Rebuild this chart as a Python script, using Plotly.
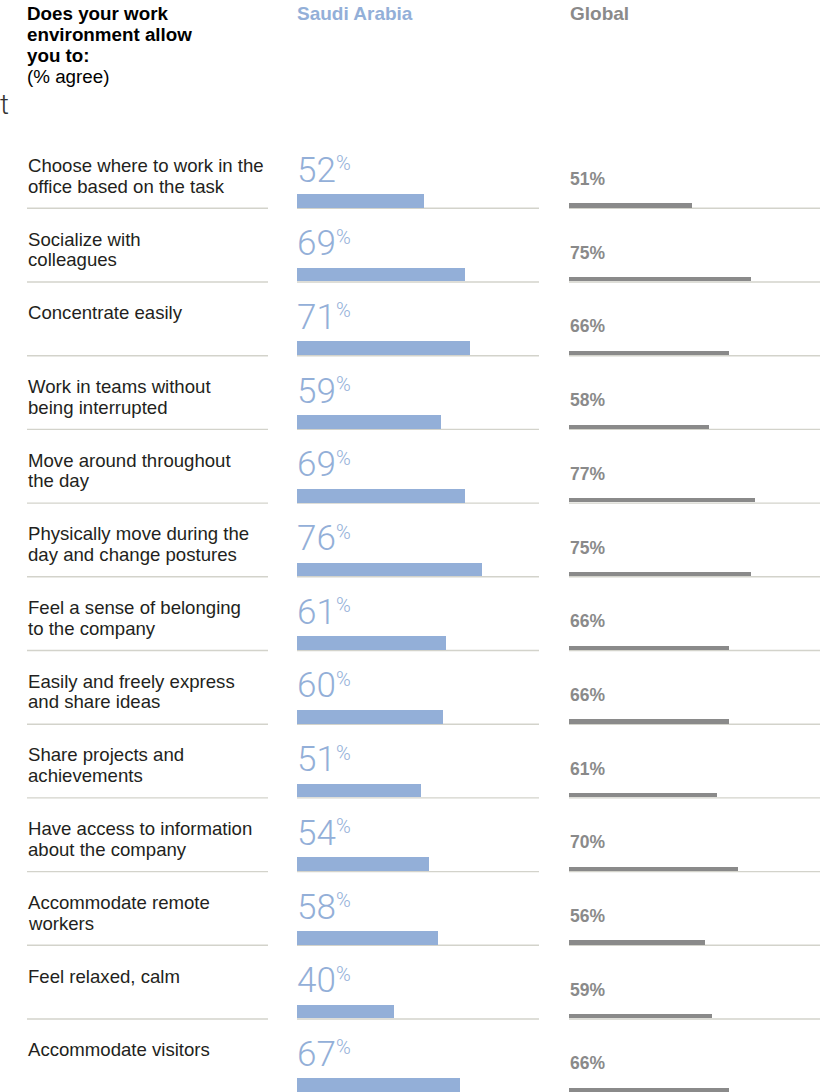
import plotly.graph_objects as go

W, H = 820, 1092

labels = [
    "Choose where to work in the<br>office based on the task",
    "Socialize with<br>colleagues",
    "Concentrate easily",
    "Work in teams without<br>being interrupted",
    "Move around throughout<br>the day",
    "Physically move during the<br>day and change postures",
    "Feel a sense of belonging<br>to the company",
    "Easily and freely express<br>and share ideas",
    "Share projects and<br>achievements",
    "Have access to information<br>about the company",
    "Accommodate remote<br>workers",
    "Feel relaxed, calm",
    "Accommodate visitors",
]
saudi = [52, 69, 71, 59, 69, 76, 61, 60, 51, 54, 58, 40, 67]
global_ = [51, 75, 66, 58, 77, 75, 66, 66, 61, 70, 56, 59, 66]
header_lines = ["<b>Does your work</b>", "<b>environment allow</b>", "<b>you to:</b>", "(% agree)"]

SAUDI_C = "#93afd8"
GLOBAL_C = "#8a8a8a"
LINE_C = "#d3d3cb"
TEXT_C = "#231f20"
SANS = "Liberation Sans, Arial, sans-serif"

# pixel -> row-unit mapping (row i occupies ROW0 + i*PITCH .. ROW0 + (i+1)*PITCH)
ROW0 = 134.6
PITCH = 73.7
SA_X0, SA_W = 297, 243.6
GL_X0, GL_W = 569, 242


def u(px):
    return (px - ROW0) / PITCH


def off(px):
    return (px - ROW0) / PITCH


def py(px):
    return 1 - px / H


n = len(labels)
rows = list(range(n))

fig = go.Figure()
fig.add_trace(go.Bar(
    y=[r + off(200.85) for r in rows], x=saudi, orientation="h",
    width=13.7 / PITCH, marker=dict(color=SAUDI_C, line=dict(width=0)),
    textposition="none",
    xaxis="x", yaxis="y", hoverinfo="skip", showlegend=False,
))
fig.add_trace(go.Bar(
    y=[r + off(205.5) for r in rows], x=global_, orientation="h",
    width=4.2 / PITCH, marker=dict(color=GLOBAL_C, line=dict(width=0)),
    textposition="none",
    xaxis="x2", yaxis="y", hoverinfo="skip", showlegend=False,
))

shapes = []
ann = []
for r in rows:
    yl = r + 1
    for x0, x1 in [(27, 268), (297, 539), (569, 820)]:
        shapes.append(dict(type="line", xref="paper", yref="y",
                           x0=x0 / W, x1=x1 / W, y0=yl, y1=yl,
                           line=dict(color=LINE_C, width=1.4), layer="below"))
    for k, line in enumerate(labels[r].split("<br>")):
        ann.append(dict(xref="paper", yref="y", x=26 / W, y=r + off(165.3 + 20.7 * k),
                        text=line, showarrow=False, xanchor="left", yanchor="middle",
                        align="left",
                        font=dict(family=SANS, size=18.6, color=TEXT_C)))
    ann.append(dict(xref="paper", yref="y", x=(SA_X0 - 2) / W, y=r + off(170),
                    text=f"{saudi[r]}",
                    showarrow=False, xanchor="left", yanchor="middle",
                    font=dict(family="Roboto", size=35, color=SAUDI_C, weight=300)))
    ann.append(dict(xref="paper", yref="y", x=(SA_X0 + 37.3) / W, y=r + off(163),
                    text="%",
                    showarrow=False, xanchor="left", yanchor="middle",
                    font=dict(family="Roboto", size=20, color=SAUDI_C, weight=300)))
    ann.append(dict(xref="paper", yref="y", x=(GL_X0 - 1) / W, y=r + off(179),
                    text=f"<b>{global_[r]}%</b>", showarrow=False,
                    xanchor="left", yanchor="middle",
                    font=dict(family=SANS, size=17.5, color=GLOBAL_C)))

for k, line in enumerate(header_lines):
    ann.append(dict(xref="paper", yref="paper", x=25 / W, y=py(13.6 + 21 * k),
                    text=line, showarrow=False, xanchor="left", yanchor="middle", align="left",
                    font=dict(family=SANS, size=18.8, color="#000000")))
ann.append(dict(xref="paper", yref="paper", x=295 / W, y=py(13.4),
                text="<b>Saudi Arabia</b>", showarrow=False, xanchor="left", yanchor="middle",
                font=dict(family=SANS, size=19, color=SAUDI_C)))
ann.append(dict(xref="paper", yref="paper", x=568 / W, y=py(13.4),
                text="<b>Global</b>", showarrow=False, xanchor="left", yanchor="middle",
                font=dict(family=SANS, size=19, color=GLOBAL_C)))
ann.append(dict(xref="paper", yref="paper", x=0, y=py(105),
                text="t", showarrow=False, xanchor="left", yanchor="middle", xshift=-2,
                font=dict(family="Roboto", size=28, color="#333333", weight=300)))

fig.update_layout(
    width=W, height=H, margin=dict(l=0, r=0, t=0, b=0, pad=0),
    paper_bgcolor="white", plot_bgcolor="white",
    bargap=0, barmode="overlay",
    xaxis=dict(domain=[SA_X0 / W, (SA_X0 + SA_W) / W], range=[0, 100], visible=False, fixedrange=True),
    xaxis2=dict(domain=[GL_X0 / W, (GL_X0 + GL_W) / W], range=[0, 100], visible=False,
                anchor="y", fixedrange=True),
    yaxis=dict(domain=[0, 1], range=[u(H), u(0)], visible=False, fixedrange=True),
    shapes=shapes, annotations=ann,
)
fig.write_html(
    "out.html",
    config=dict(displayModeBar=False),
    post_script="document.body.style.margin='0';document.body.style.overflow='hidden';",
)
